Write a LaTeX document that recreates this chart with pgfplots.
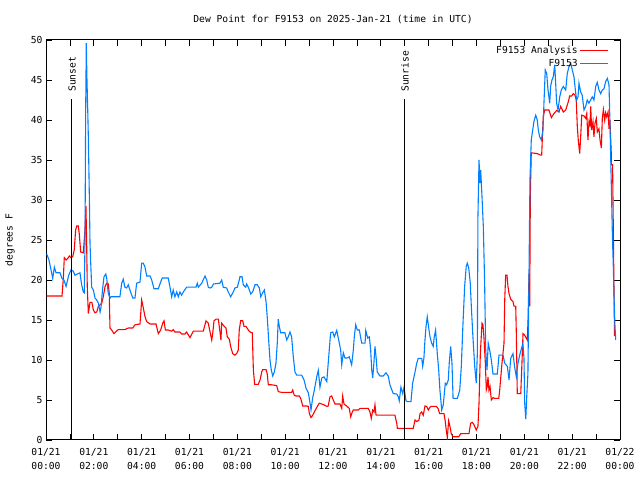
\documentclass[border=0pt]{standalone}
\usepackage{pgfplots}
\pgfplotsset{compat=1.18}
\usepackage{fontspec}
\setmainfont{DejaVu Sans Mono}
\definecolor{anared}{RGB}{255,0,0}
\definecolor{obsblue}{RGB}{0,128,255}

\begin{document}
\begin{tikzpicture}[font=\fontsize{9.7}{14}\selectfont]
\useasboundingbox (0,0) rectangle (640bp,480bp);
\begin{axis}[
  at={(46bp,40bp)}, anchor=south west,
  scale only axis, width=574bp, height=400bp,
  xmin=0, xmax=24, ymin=0, ymax=50,
  xtick={0,1,...,24},
  xticklabels={{01/21\\00:00},{},{01/21\\02:00},{},{01/21\\04:00},{},{01/21\\06:00},{},{01/21\\08:00},{},{01/21\\10:00},{},{01/21\\12:00},{},{01/21\\14:00},{},{01/21\\16:00},{},{01/21\\18:00},{},{01/21\\20:00},{},{01/21\\22:00},{},{01/22\\00:00}},
  xticklabel style={align=center, yshift=-5bp},
  ytick={0,5,...,50},
  /pgf/number format/assume math mode=true,
  major tick length=6bp,
  tick style={black, line width=0.8bp},
  axis line style={black, line width=1bp},
  ylabel={degrees F},
  ylabel style={at={(axis description cs:-0.0627,0.5)}, anchor=center, rotate=0},
  title={Dew Point for F9153 on 2025-Jan-21 (time in UTC)},
  title style={at={(axis description cs:0.5,1.0375)}, anchor=center},
  legend style={at={(axis description cs:0.986,0.995)}, anchor=north east, draw=none, fill=none, row sep=0bp},
  legend cell align=right,
  legend plot pos=right,
  legend image code/.code={\draw[#1] (0bp,0bp) -- (28bp,0bp);},
]
\addplot[anared, line width=1.1bp] table {
0.03 18
0.67 18
0.725 20.25
0.765 22.8
0.84 22.5
0.91 22.7
0.975 23
1.045 22.8
1.115 22.9
1.18 23.75
1.24 26.25
1.285 26.75
1.35 26.75
1.39 25.8
1.45 23.5
1.56 23.4
1.62 25.8
1.67 29.25
1.70 24.6
1.725 19.2
1.77 15.8
1.84 17.2
1.92 17.2
1.98 16.25
2.05 15.9
2.12 16
2.19 16.7
2.26 16.9
2.33 17.1
2.395 17.9
2.47 19.2
2.54 19.6
2.605 19.5
2.645 18.3
2.675 14
2.745 13.75
2.84 13.3
3.02 13.8
3.30 13.8
3.44 14
3.625 14
3.72 14.4
3.93 14.5
4.00 17.5
4.07 16.5
4.14 15.4
4.21 14.8
4.35 14.5
4.60 14.5
4.695 13.3
4.795 13.75
4.88 14.6
4.935 14.9
4.99 13.75
5.11 13.75
5.255 13.6
5.32 13.8
5.39 13.5
5.60 13.5
5.67 13.25
5.81 13.25
5.88 13.5
6.02 12.8
6.16 13.6
6.575 13.6
6.69 14.9
6.785 14.6
6.86 13.5
6.93 12.5
6.97 13.3
7.025 14.9
7.11 15.1
7.205 15.1
7.275 13.5
7.315 12.5
7.345 14.6
7.44 14.25
7.525 14
7.58 12.9
7.665 12.6
7.72 11.7
7.805 10.8
7.90 10.6
7.97 10.8
8.04 11.25
8.08 13.75
8.14 14.9
8.225 14.9
8.28 14.2
8.36 14.2
8.46 13.75
8.53 13.5
8.625 13.4
8.67 8.75
8.725 6.95
8.875 6.95
8.95 7.5
9.02 8.5
9.06 8.8
9.20 8.8
9.25 8.25
9.295 6.9
9.435 6.9
9.645 6.8
9.71 6.05
9.855 5.95
10.27 5.95
10.315 6.25
10.38 5.6
10.45 5.5
10.59 5.5
10.65 5.2
10.735 4.25
10.90 4.25
10.97 4.2
11.01 3.3
11.08 2.8
11.15 3.1
11.245 3.65
11.345 4.2
11.425 4.6
11.53 4.5
11.62 4.4
11.74 4.2
11.80 4.25
11.875 5.4
11.945 5.5
12.01 5
12.085 4.5
12.29 4.5
12.365 3.95
12.405 5.5
12.46 4.5
12.57 4.25
12.68 3.95
12.74 2.9
12.805 3.5
12.85 3.75
13.06 3.75
13.13 3.95
13.475 3.95
13.545 3.5
13.60 2.7
13.66 3.75
13.715 3.5
13.755 4.4
13.80 3.1
13.895 3.1
14.59 3.1
14.665 2.1
14.69 1.45
15.355 1.45
15.43 2.5
15.50 2.3
15.595 2.5
15.64 3.3
15.71 3.5
15.775 3.1
15.845 4.25
15.915 4.2
15.985 3.75
16.055 4.1
16.11 4.2
16.32 4.2
16.39 3.95
16.46 3.3
16.64 3.3
16.695 2.3
16.735 1.25
16.78 0.3
16.835 2.4
16.89 1.7
16.945 0.8
17.015 0.4
17.255 0.4
17.34 0.8
17.685 0.8
17.755 2.1
17.825 2.2
17.895 1.9
17.99 1.25
18.06 1.7
18.105 4.6
18.16 10.8
18.23 14.6
18.27 14.4
18.31 12.9
18.37 9.6
18.41 6.25
18.45 6.7
18.48 7.9
18.52 6.25
18.565 6.7
18.62 5
18.69 5.3
18.76 5.2
18.93 5.2
18.97 6.25
19.065 9.6
19.15 12.1
19.18 17.5
19.22 20.6
19.275 20.6
19.315 19.2
19.36 18.3
19.43 17.6
19.525 17.3
19.565 16.75
19.64 16.7
19.665 13.3
19.705 5.8
19.85 5.8
19.90 9.6
19.945 13.3
20.015 13.1
20.085 12.7
20.125 12.5
20.155 15
20.195 20.8
20.225 16.7
20.25 30.5
20.29 35.9
20.54 35.8
20.685 35.6
20.725 35.6
20.75 37.5
20.79 40.4
20.85 41.25
21.03 41.25
21.13 40.3
21.24 40.8
21.355 41.2
21.45 41
21.52 41.7
21.63 41
21.73 41.25
21.84 42.3
21.895 43
21.98 43
22.045 43.3
22.12 43.1
22.17 42.5
22.215 39.2
22.255 37.5
22.315 35.8
22.355 37.9
22.40 40.6
22.495 40.5
22.565 40.2
22.61 40.8
22.66 37.5
22.705 39.8
22.745 39.4
22.775 41.7
22.815 38.75
22.87 39.8
22.91 37.9
22.955 39.6
23.01 40.2
23.05 38.5
23.12 38.9
23.165 37.5
23.22 36.5
23.26 40.2
23.305 41.3
23.36 40
23.40 40.9
23.445 40.4
23.50 41
23.54 38.9
23.58 40
23.635 35.8
23.635 34.4
23.69 34.4
23.77 13
};
\addlegendentry{F9153 Analysis}
\addplot[obsblue, line width=1.1bp] table {
0.03 23.25
0.125 22.5
0.21 21.25
0.28 20.2
0.35 21.6
0.42 20.9
0.585 20.9
0.67 20.2
0.75 20
0.84 19.2
0.95 20.6
1.045 21.25
1.14 21.1
1.21 20.6
1.42 20.9
1.49 19.4
1.56 18.5
1.60 18.4
1.63 24.6
1.66 41.6
1.685 49.6
1.71 45.4
1.745 41.25
1.77 37.9
1.81 30.9
1.84 24.6
1.87 22.1
1.91 19.1
1.98 18.75
2.05 17.75
2.12 17.5
2.19 17.1
2.26 16
2.30 16.6
2.37 19
2.425 20.4
2.50 20.75
2.54 20.2
2.60 18.4
2.68 17.75
2.72 17.9
3.09 17.9
3.165 19.6
3.23 20.1
3.30 19.1
3.37 19
3.44 19.4
3.51 18.75
3.625 17.75
3.72 17.75
3.79 19.6
3.93 19.75
4.00 22.1
4.07 22.1
4.14 21.6
4.21 20.5
4.35 20.5
4.42 20
4.515 18.9
4.695 18.9
4.795 19.75
4.86 20.25
5.11 20.25
5.185 19.1
5.255 17.9
5.32 18.75
5.39 17.9
5.465 18.5
5.53 17.9
5.60 18.5
5.67 18.1
5.74 18.5
5.88 19.1
6.27 19.1
6.325 19.6
6.37 19.1
6.51 19.6
6.65 20.5
6.72 20
6.785 19.1
6.86 19
6.93 19.1
7.00 19.5
7.275 19.6
7.345 20
7.41 19.1
7.555 19
7.62 18.5
7.72 17.9
7.83 18.5
7.90 19
8.00 19.1
8.08 20
8.11 20.4
8.195 20.4
8.25 19.4
8.35 19.1
8.39 19.5
8.46 19.1
8.56 18.25
8.64 18.5
8.74 19.4
8.835 19.4
8.92 19
8.98 17.9
9.06 18.4
9.13 18.75
9.20 17.3
9.25 15.4
9.31 12.5
9.365 10
9.42 8.75
9.48 8
9.545 8.5
9.615 9.6
9.67 12.1
9.71 15.1
9.755 14.2
9.81 13.4
9.99 13.4
10.065 12.5
10.13 12.9
10.20 13.5
10.27 12.9
10.34 10.4
10.41 8.5
10.48 8.1
10.69 8.1
10.79 7.5
10.87 6.5
10.97 5.9
11.04 4.6
11.08 3.75
11.15 5.25
11.22 6.25
11.32 7.9
11.385 8.7
11.455 6.6
11.53 7.75
11.62 7.9
11.74 7.3
11.80 9.6
11.90 13.4
11.99 13.5
12.055 12.9
12.155 13.7
12.265 12.1
12.32 11.25
12.365 9.4
12.43 10.9
12.50 10.25
12.60 10.25
12.68 10.4
12.78 9.4
12.85 11.25
12.89 12.9
12.95 14.4
13.015 13.75
13.10 13.75
13.20 12.1
13.34 12.1
13.37 13.7
13.45 12.75
13.52 12.9
13.575 11.25
13.62 8.75
13.66 7.75
13.71 9.6
13.755 11.7
13.80 10.4
13.85 8.5
13.965 8
14.10 8
14.215 8.4
14.31 8
14.38 6.9
14.52 5.8
14.665 5.75
14.73 5.4
14.77 4.9
14.84 6.6
14.915 5.8
14.97 6.6
15.05 4.9
15.11 4.8
15.26 4.8
15.33 7.1
15.43 8.5
15.50 9.6
15.565 10.2
15.71 10.2
15.75 9.2
15.80 10.2
15.845 12.5
15.89 14.2
15.94 15.4
15.985 14.4
16.055 12.9
16.125 12.1
16.19 11.7
16.235 12.9
16.29 13.75
16.36 10.8
16.42 8.75
16.47 6.25
16.545 3.75
16.61 4.4
16.695 7.1
16.75 6.9
16.82 7.5
16.86 9.6
16.92 11.7
16.975 9.6
17.02 5.2
17.20 5.2
17.30 6.25
17.365 9.2
17.435 14.6
17.505 19.2
17.57 21.7
17.615 22.1
17.675 21.5
17.74 19.6
17.78 16.9
17.85 12.9
17.925 9.2
17.99 7.1
18.035 10.8
18.06 27.9
18.105 35
18.145 32.1
18.175 33.75
18.23 30.4
18.285 26.7
18.34 19.6
18.385 11.25
18.44 8.75
18.49 12.1
18.55 11.25
18.62 10
18.69 8.25
18.87 8.25
18.94 10.6
19.11 10.6
19.18 9.6
19.29 9.2
19.36 7.5
19.43 10.2
19.525 10.8
19.60 9
19.665 7.9
19.735 9.6
19.805 10.6
19.94 12.1
19.985 10.2
20.015 4.6
20.06 2.6
20.10 5.4
20.15 8.3
20.195 20.8
20.235 32.5
20.29 37.5
20.35 38.75
20.40 39.8
20.475 40.6
20.54 40
20.585 38.75
20.64 37.9
20.71 37.5
20.78 38.75
20.82 42.1
20.875 46.25
20.935 45.8
20.99 43.75
21.06 42.1
21.10 44.2
21.155 45
21.21 45.4
21.27 46.9
21.31 44.6
21.35 42.1
21.41 41.25
21.48 42.9
21.545 43.75
21.63 44.2
21.73 43.75
21.795 45.8
21.87 46.7
21.94 47.1
22.005 46.25
22.075 45.4
22.15 43.3
22.19 42.5
22.245 42.9
22.285 44.6
22.355 43.5
22.42 43.1
22.495 41.25
22.565 41.7
22.63 42.5
22.70 42.1
22.775 42.5
22.84 42.9
22.91 42.5
22.985 44.2
23.05 44.7
23.12 43.75
23.19 43.3
23.26 43.75
23.33 43.9
23.40 44.8
23.47 45.2
23.54 44.4
23.58 39.6
23.635 32.1
23.68 25.8
23.72 21.7
23.75 17.9
23.79 14.2
23.82 12.5
};
\addlegendentry{F9153}
\addplot[black, line width=1bp, forget plot] coordinates {(1.087,0) (1.087,42.6)};
\addplot[black, line width=1bp, forget plot] coordinates {(15.01,0) (15.01,42.6)};
\node[rotate=90, anchor=west, inner sep=0pt] at (axis cs:1.087,43.5) {Sunset};
\node[rotate=90, anchor=west, inner sep=0pt] at (axis cs:15.01,43.5) {Sunrise};
\end{axis}
\end{tikzpicture}
\end{document}
